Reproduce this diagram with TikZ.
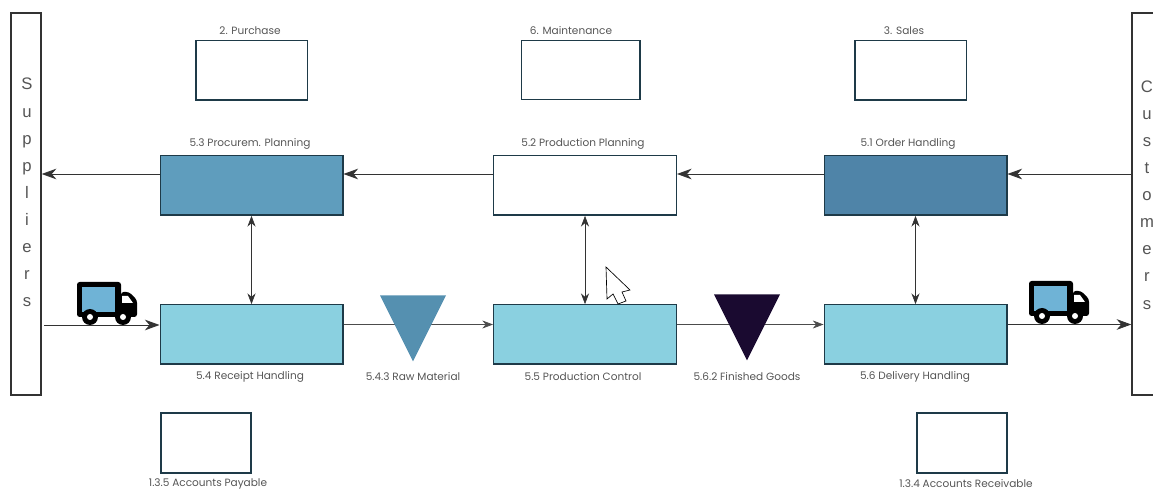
\documentclass[tikz,border=0pt]{standalone}
\usepackage{fontspec}
\setmainfont{Poppins}
\newfontfamily\letterfont{Liberation Sans}
\usetikzlibrary{arrows.meta, shapes.geometric, backgrounds}
\definecolor{boxline}{HTML}{1E3A48}
\definecolor{lightblue}{HTML}{8AD0E0}
\definecolor{midblue}{HTML}{5F9DBD}
\definecolor{deepblue}{HTML}{4F84A8}
\definecolor{rawblue}{HTML}{5590B0}
\definecolor{darkink}{HTML}{1A0A30}
\definecolor{truckblue}{HTML}{6FB3D6}
\definecolor{labelgray}{HTML}{555555}

\tikzset{
  truck/.pic={
    \fill[black, rounded corners=2pt] (0,0) rectangle (44,35);
    \fill[truckblue] (5,5) rectangle (38,30);
    \fill[black, rounded corners=2pt] (44,10) -- (52,10) -- (60,18) -- (60,35) -- (44,35) -- cycle;
    \fill[white] (45,14) -- (51,14) -- (56,21) -- (45,21) -- cycle;
    \fill[black] (13,35) circle (8);
    \fill[black] (46,35) circle (8);
    \fill[white] (13,35) circle (3);
    \fill[white] (46,35) circle (3);
  }
}

\begin{document}
\begin{tikzpicture}[x=0.75pt, y=-0.75pt,
    arr/.style={-{Stealth[length=11pt, width=8pt, inset=3.5pt]}, draw=black!80, line width=0.6pt},
    smallarr/.style={-{Stealth[length=8pt, width=6pt, inset=2.5pt]}, draw=black!70, line width=0.5pt},
    twoway/.style={{Stealth[length=8pt, width=6pt, inset=2.5pt]}-{Stealth[length=8pt, width=6pt, inset=2.5pt]}, draw=black!80, line width=0.5pt},
    plainbox/.style={draw=boxline, line width=1pt, fill=white, inner sep=0pt},
    flowbox/.style={plainbox, minimum width=137pt, minimum height=44.5pt},
    sidebar/.style={draw=black!80, line width=1.1pt, fill=white, inner sep=0pt, minimum height=286.5pt},
    letters/.style={align=center, text=labelgray, font=\letterfont\fontsize{12.5}{20.3}\selectfont},
    stock/.style={isosceles triangle, isosceles triangle apex angle=53, isosceles triangle stretches,
      shape border rotate=-90, minimum width=49.5pt, minimum height=49.5pt, inner sep=0pt, anchor=north},
    lbl/.style={text=labelgray, font=\fontsize{7.9}{9}\selectfont, inner sep=0pt}]

  \clip (0,0) rectangle (1153,491);

  % ----- Side bars -----
  \node[sidebar, minimum width=22.5pt] at (26,204) (suppliers) {};
  \node[letters] at (27,192.5) (supplierstext) {S\\u\\p\\p\\l\\i\\e\\r\\s};
  \node[sidebar, minimum width=22.5pt] at (1147,204) (customers) {};
  \node[letters] at (1147,195) (customerstext) {C\\u\\s\\t\\o\\m\\e\\r\\s};

  % ----- Top row -----
  \node[plainbox, minimum width=83.5pt, minimum height=44.5pt] at (251.5,70.5) (purchase) {};
  \node[plainbox, minimum width=89pt, minimum height=44pt] at (580.5,70) (maintenance) {};
  \node[plainbox, minimum width=83.5pt, minimum height=44.5pt] at (910.5,70.5) (sales) {};
  \node[lbl] at (250,31) (purchaselbl) {2. Purchase};
  \node[lbl] at (571,31) (maintenancelbl) {6. Maintenance};
  \node[lbl] at (904,31) (saleslbl) {3. Sales};

  % ----- Planning row -----
  \node[flowbox, fill=midblue] at (251.5,185.5) (procurem) {};
  \node[flowbox] at (585,185.5) (planning) {};
  \node[flowbox, fill=deepblue] at (915.5,185.5) (order) {};
  \node[lbl] at (250,144) (procuremlbl) {5.3 Procurem. Planning};
  \node[lbl] at (583,144) (planninglbl) {5.2 Production Planning};
  \node[lbl] at (908,144) (orderlbl) {5.1 Order Handling};

  % ----- Handling row -----
  \node[flowbox, fill=lightblue] at (251.5,334.5) (receipt) {};
  \node[flowbox, fill=lightblue] at (585,334.5) (control) {};
  \node[flowbox, fill=lightblue] at (915.5,334.5) (delivery) {};
  \node[lbl] at (250,377) (receiptlbl) {5.4 Receipt Handling};
  \node[lbl] at (583,377) (controllbl) {5.5 Production Control};
  \node[lbl] at (915,377) (deliverylbl) {5.6 Delivery Handling};

  % ----- Stock triangles -----
  \node[stock, fill=rawblue] at (413,295) (rawmat) {};
  \node[stock, fill=darkink] at (747,294) (finished) {};
  \node[lbl] at (413,377) (rawmatlbl) {5.4.3 Raw Material};
  \node[lbl] at (747,377) (finishedlbl) {5.6.2 Finished Goods};

  % ----- Accounts -----
  \node[plainbox, minimum width=67.5pt, minimum height=45pt] at (206,443) (payable) {};
  \node[plainbox, minimum width=67.5pt, minimum height=45pt] at (962,443) (receivable) {};
  \node[lbl] at (208,483.5) (payablelbl) {1.3.5 Accounts Payable};
  \node[lbl] at (966,483.5) (receivablelbl) {1.3.4 Accounts Receivable};

  % ----- Order flow (right to left) -----
  \coordinate (high) at (0,174);
  \draw[arr] (customers.west |- high) -- (order.east |- high);
  \draw[arr] (order.west |- high) -- (planning.east |- high);
  \draw[arr] (planning.west |- high) -- (procurem.east |- high);
  \draw[arr] (procurem.west |- high) -- (suppliers.east |- high);

  % ----- Planning <-> handling -----
  \draw[twoway] (procurem) -- (receipt);
  \draw[twoway] (planning) -- (control);
  \draw[twoway] (order) -- (delivery);

  % ----- Goods flow (left to right) -----
  \coordinate (low) at (0,324.5);
  \coordinate (goodsin) at (44,325);
  \draw[arr] (goodsin) -- (receipt.west |- goodsin);
  \begin{scope}[on background layer]
    \draw[smallarr] (receipt.east |- low) -- (control.west |- low);
    \draw[smallarr] (control.east |- low) -- (delivery.west |- low);
  \end{scope}
  \draw[arr] (delivery.east |- low) -- (customers.west |- low);

  % ----- Trucks -----
  \pic at (77,282) {truck};
  \pic at (1029,281) {truck};

  % ----- Mouse pointer -----
  \draw[black, line width=0.5pt, fill=white] (606,267) -- (630,290) -- (622,292) -- (626,301)
    -- (618,304) -- (613,294) -- (607,299) -- cycle;

\end{tikzpicture}
\end{document}
